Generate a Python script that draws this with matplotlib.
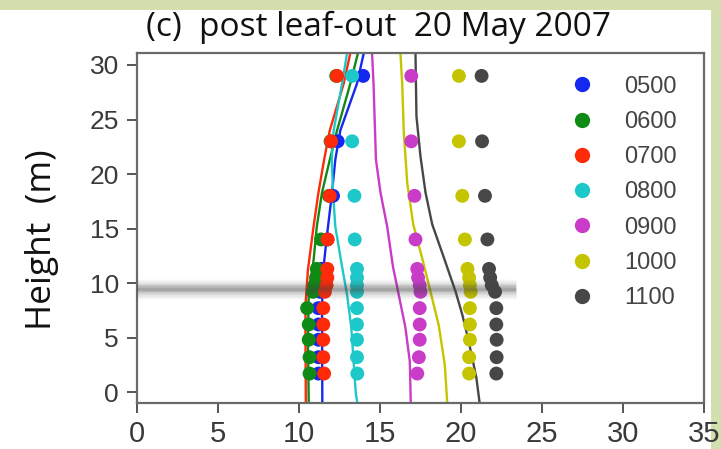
import matplotlib
matplotlib.use("Agg")
import matplotlib.pyplot as plt
from matplotlib.lines import Line2D
from matplotlib.patches import Rectangle

# ---------------- data ----------------
hours = ["0500", "0600", "0700", "0800", "0900", "1000", "1100"]
colors = ["#1428f0", "#0f8a14", "#ff2a0a", "#1ec8c8", "#c83cc8", "#c4c400", "#474747"]

heights = [29, 23, 18, 14, 11.3, 10.5, 9.8, 9.2, 7.7, 6.2, 4.8, 3.2, 1.7]

pts_0500 = [13.96, 12.39, 12.10, 11.75, 11.40, 11.40, 11.35, 11.30, 11.20, 11.20, 11.20, 11.20, 11.20]
pts_0600 = [12.30, 11.95, 11.85, 11.36, 11.10, 11.05, 10.95, 10.87, 10.50, 10.60, 10.60, 10.65, 10.65]
pts_0700 = [12.35, 11.98, 11.90, 11.77, 11.75, 11.75, 11.70, 11.60, 11.50, 11.50, 11.50, 11.50, 11.55]
pts_0800 = [13.28, 13.28, 13.42, 13.44, 13.58, 13.58, 13.58, 13.58, 13.58, 13.58, 13.58, 13.58, 13.60]
pts_0900 = [16.93, 16.93, 17.13, 17.19, 17.30, 17.35, 17.45, 17.50, 17.45, 17.45, 17.45, 17.40, 17.30]
pts_1000 = [19.87, 19.87, 20.08, 20.24, 20.40, 20.50, 20.55, 20.60, 20.55, 20.55, 20.55, 20.50, 20.50]
pts_1100 = [21.27, 21.30, 21.48, 21.63, 21.73, 21.80, 21.90, 22.10, 22.18, 22.18, 22.20, 22.20, 22.18]

# modelled profiles: (height, value)
line_0500_z = [-1, 8, 11.5, 13.9, 18.3, 21.3, 24, 28.3, 31.1]
line_0500_x = [11.44, 11.42, 11.52, 11.69, 12.04, 12.24, 12.55, 13.58, 14.00]
line_0600_z = [-1, 5, 9, 12.1, 15.2, 18.3, 21.3, 24, 28.3, 31.1]
line_0600_x = [10.60, 10.55, 10.60, 10.90, 11.10, 11.42, 11.90, 12.35, 13.17, 13.64]
line_0700_z = [-1, 5, 8, 11.2, 15.2, 18.3, 21.3, 24, 28.3, 31.1]
line_0700_x = [10.42, 10.40, 10.40, 10.55, 10.90, 11.20, 11.55, 11.90, 12.76, 13.17]
line_0800_z = [-1, 0, 5.9, 8.9, 12, 15.2, 18.3, 21.3, 24, 28.3, 31.1]
line_0800_x = [13.60, 13.50, 13.23, 12.97, 12.60, 12.24, 12.10, 12.02, 12.14, 12.66, 12.97]
line_0900_z = [-1, 2.8, 5.9, 8.9, 11.5, 15.2, 18.3, 21.3, 28.3, 31.1]
line_0900_x = [16.90, 16.84, 16.57, 16.16, 15.80, 15.44, 15.03, 14.75, 14.60, 14.51]
line_1000_z = [-1, 2.5, 6.1, 9.2, 12.3, 15.4, 19.2, 23.8, 28.3, 31.1]
line_1000_x = [19.15, 19.00, 18.63, 18.12, 17.60, 17.05, 16.68, 16.47, 16.37, 16.26]
line_1100_z = [-1, 1.3, 3.1, 5.2, 7.1, 9.2, 12.3, 15.4, 18.3, 21.6, 25.3, 31.1]
line_1100_x = [21.15, 20.95, 20.70, 20.39, 20.08, 19.67, 18.95, 18.22, 17.81, 17.50, 17.25, 17.19]

band_height = 9.45
band_x = [0, 23.4]

xticks = [0, 5, 10, 15, 20, 25, 30, 35]
yticks = [0, 5, 10, 15, 20, 25, 30]

points = [pts_0500, pts_0600, pts_0700, pts_0800, pts_0900, pts_1000, pts_1100]
lines_z = [line_0500_z, line_0600_z, line_0700_z, line_0800_z, line_0900_z, line_1000_z, line_1100_z]
lines_x = [line_0500_x, line_0600_x, line_0700_x, line_0800_x, line_0900_x, line_1000_x, line_1100_x]

# ---------------- figure ----------------
W, H = 721, 449
fig = plt.figure(figsize=(W / 100, H / 100), dpi=100)
fig.patch.set_facecolor("white")
green = "#d4dfb0"
fig.patches.append(Rectangle((0, 1 - 10 / H), 1, 10 / H, transform=fig.transFigure,
                             facecolor=green, edgecolor="none", zorder=-10))
fig.patches.append(Rectangle((711 / W, 0), 1 - 711 / W, 1, transform=fig.transFigure,
                             facecolor=green, edgecolor="none", zorder=-10))

ax = fig.add_axes([137 / W, 1 - 403 / H, (704 - 137) / W, (403 - 53) / H])
ax.set_xlim(0, 35)
ax.set_ylim(-1, 31.1)

for lx, lz, c in zip(lines_x, lines_z, colors):
    ax.plot(lx, lz, color=c, lw=1.7, zorder=2, solid_capstyle="butt")

for px, c in zip(points, colors):
    ax.scatter(px, heights, s=100, color=c, edgecolors="none", zorder=3)

# blurred gray band
for lw, a in [(14, 0.06), (11, 0.07), (8, 0.09), (6, 0.11), (4, 0.13), (2, 0.15)]:
    ax.plot(band_x, [band_height, band_height], color="#444444", lw=lw, alpha=a,
            zorder=4, solid_capstyle="butt")

ax.set_xticks(xticks)
ax.set_yticks(yticks)
tickfont = dict(family=["Liberation Sans", "DejaVu Sans"])
ax.set_xticklabels([str(v) for v in xticks], fontsize=21, color="#3a3a3a", **tickfont)
ax.set_yticklabels([str(v) for v in yticks], fontsize=19, color="#3a3a3a", **tickfont)
ax.tick_params(axis="both", direction="out", length=7, width=1.4, color="#555555")
ax.tick_params(axis="y", pad=6)
ax.tick_params(axis="x", pad=5.5)
for s in ax.spines.values():
    s.set_color("#6a6a6a")
    s.set_linewidth(1.6)

handles = [Line2D([], [], ls="none", marker="o", markersize=11, color=c, markeredgecolor="none")
           for c in colors]
leg = ax.legend(handles, hours, loc="upper left", bbox_to_anchor=(0.747, 0.962),
                frameon=False, fontsize=17, labelspacing=0.56, handletextpad=1.3,
                handlelength=1.0, borderaxespad=0)
for t in leg.get_texts():
    t.set_color("#444444")
    t.set_family(["Liberation Sans", "DejaVu Sans"])

fig.text(378 / W, 1 - 27 / H, "(c)  post leaf-out  20 May 2007", ha="center", va="center",
         fontsize=24, color="#111111", family=["Open Sans", "DejaVu Sans"])
fig.text(42 / W, 1 - 240 / H, "Height  (m)", ha="center", va="center", rotation=90,
         fontsize=25.5, color="#111111", family=["Open Sans", "DejaVu Sans"])

fig.savefig("out.png", dpi=100)
